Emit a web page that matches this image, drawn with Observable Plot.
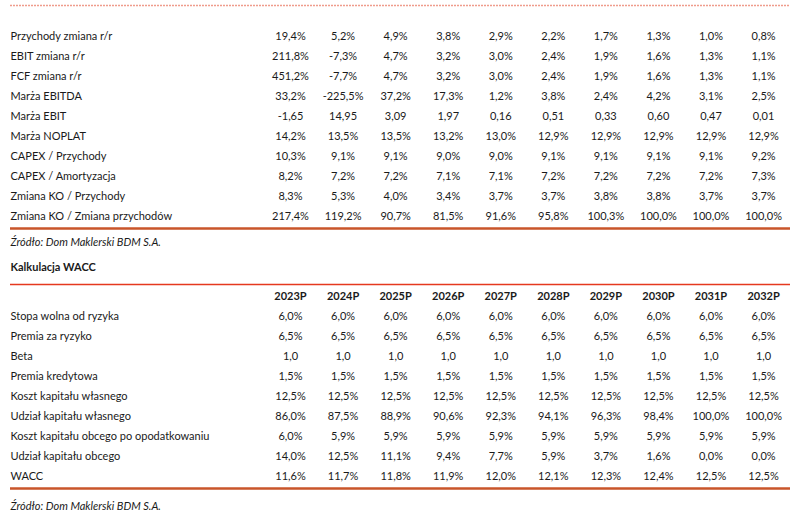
<!DOCTYPE html>
<html>
<head>
<meta charset="utf-8">
<script src="https://cdn.jsdelivr.net/npm/d3@7"></script>
<script src="https://cdn.jsdelivr.net/npm/@observablehq/plot@0.6"></script>
<style>
  html, body { margin: 0; padding: 0; background: #fff; }
  #chart svg { display: block; }
</style>
</head>
<body>
<div id="chart"></div>
<script>
// ---------- data ----------
const years = ["2023P","2024P","2025P","2026P","2027P","2028P","2029P","2030P","2031P","2032P"];

const ratioLabels = [
  "Przychody zmiana r/r",
  "EBIT zmiana r/r",
  "FCF zmiana r/r",
  "Marża EBITDA",
  "Marża EBIT",
  "Marża NOPLAT",
  "CAPEX / Przychody",
  "CAPEX / Amortyzacja",
  "Zmiana KO / Przychody",
  "Zmiana KO / Zmiana przychodów"
];
const ratioFormats = ["pct","pct","pct","pct","num2","pct","pct","pct","pct","pct"];
const revenueChange   = [19.4, 5.2, 4.9, 3.8, 2.9, 2.2, 1.7, 1.3, 1.0, 0.8];
const ebitChange      = [211.8, -7.3, 4.7, 3.2, 3.0, 2.4, 1.9, 1.6, 1.3, 1.1];
const fcfChange       = [451.2, -7.7, 4.7, 3.2, 3.0, 2.4, 1.9, 1.6, 1.3, 1.1];
const ebitdaMargin    = [33.2, -225.5, 37.2, 17.3, 1.2, 3.8, 2.4, 4.2, 3.1, 2.5];
const ebitMargin      = [-1.65, 14.95, 3.09, 1.97, 0.16, 0.51, 0.33, 0.60, 0.47, 0.01];
const noplatMargin    = [14.2, 13.5, 13.5, 13.2, 13.0, 12.9, 12.9, 12.9, 12.9, 12.9];
const capexRevenue    = [10.3, 9.1, 9.1, 9.0, 9.0, 9.1, 9.1, 9.1, 9.1, 9.2];
const capexDepr       = [8.2, 7.2, 7.2, 7.1, 7.1, 7.2, 7.2, 7.2, 7.2, 7.3];
const wcRevenue       = [8.3, 5.3, 4.0, 3.4, 3.7, 3.7, 3.8, 3.8, 3.7, 3.7];
const wcRevenueChange = [217.4, 119.2, 90.7, 81.5, 91.6, 95.8, 100.3, 100.0, 100.0, 100.0];
const ratioValues = [revenueChange, ebitChange, fcfChange, ebitdaMargin, ebitMargin,
  noplatMargin, capexRevenue, capexDepr, wcRevenue, wcRevenueChange];

const waccTitle = "Kalkulacja WACC";
const waccLabels = [
  "Stopa wolna od ryzyka",
  "Premia za ryzyko",
  "Beta",
  "Premia kredytowa",
  "Koszt kapitału własnego",
  "Udział kapitału własnego",
  "Koszt kapitału obcego po opodatkowaniu",
  "Udział kapitału obcego",
  "WACC"
];
const waccFormats = ["pct","pct","num1","pct","pct","pct","pct","pct","pct"];
const riskFree     = [6.0, 6.0, 6.0, 6.0, 6.0, 6.0, 6.0, 6.0, 6.0, 6.0];
const riskPremium  = [6.5, 6.5, 6.5, 6.5, 6.5, 6.5, 6.5, 6.5, 6.5, 6.5];
const beta         = [1.0, 1.0, 1.0, 1.0, 1.0, 1.0, 1.0, 1.0, 1.0, 1.0];
const creditPrem   = [1.5, 1.5, 1.5, 1.5, 1.5, 1.5, 1.5, 1.5, 1.5, 1.5];
const costEquity   = [12.5, 12.5, 12.5, 12.5, 12.5, 12.5, 12.5, 12.5, 12.5, 12.5];
const equityShare  = [86.0, 87.5, 88.9, 90.6, 92.3, 94.1, 96.3, 98.4, 100.0, 100.0];
const costDebtAT   = [6.0, 5.9, 5.9, 5.9, 5.9, 5.9, 5.9, 5.9, 5.9, 5.9];
const debtShare    = [14.0, 12.5, 11.1, 9.4, 7.7, 5.9, 3.7, 1.6, 0.0, 0.0];
const wacc         = [11.6, 11.7, 11.8, 11.9, 12.0, 12.1, 12.3, 12.4, 12.5, 12.5];
const waccValues = [riskFree, riskPremium, beta, creditPrem, costEquity,
  equityShare, costDebtAT, debtShare, wacc];

const sourceText = "Źródło: Dom Maklerski BDM S.A.";

// ---------- formatting ----------
const pl = d3.formatLocale({decimal: ",", thousands: " ", grouping: [3], currency: ["", " zł"], minus: "-"});
const fmt = {
  pct: v => pl.format(".1f")(v) + "%",
  num2: v => pl.format(".2f")(v),
  num1: v => pl.format(".1f")(v)
};

// ---------- layout in row units ----------
const row1Start = 0;                       // first table rows 0..9
const rule1Row = 9.6;
const source1Row = 10.3;
const titleRow = 11.55;
const redRuleRow = 12.4;
const headerRow = 13;
const row2Start = 14;                      // WACC rows 14..22
const rule2Row = 22.6;
const source2Row = 23.5;
const topDashRow = -1.55;

const labelRows = [
  ...ratioLabels.map((t, i) => ({row: row1Start + i, text: t})),
  ...waccLabels.map((t, i) => ({row: row2Start + i, text: t}))
];
const cells = [
  ...ratioValues.flatMap((vals, i) => vals.map((v, j) => ({row: row1Start + i, col: j, text: fmt[ratioFormats[i]](v)}))),
  ...waccValues.flatMap((vals, i) => vals.map((v, j) => ({row: row2Start + i, col: j, text: fmt[waccFormats[i]](v)})))
];
const headers = years.map((y, j) => ({row: headerRow, col: j, text: y}));

const FONT = "Lato, 'Open Sans', sans-serif";
const TEXT = "#1a1a1a";

const plot = Plot.plot({
  width: 800,
  height: 518,
  margin: 0,
  style: {fontFamily: FONT, fontSize: "11px", color: TEXT, background: "#fff"},
  x: {type: "linear", domain: [-5.518, 9.703], axis: null},
  y: {type: "linear", domain: [-1.8, 24.1], reverse: true, axis: null},
  marks: [
    Plot.ruleY([topDashRow], {stroke: "#ef9c8c", strokeWidth: 1.5, strokeDasharray: "2,1", insetLeft: 10, insetRight: 11}),
    Plot.ruleY([rule1Row, rule2Row], {stroke: "#c9552a", strokeWidth: 2.5, insetLeft: 10, insetRight: 10}),
    Plot.ruleY([redRuleRow], {stroke: "#e5391f", strokeWidth: 1.5, insetLeft: 10, insetRight: 10}),
    Plot.text(labelRows, {y: "row", text: "text", frameAnchor: "left", dx: 10, textAnchor: "start", fill: TEXT, fontSize: 11}),
    Plot.text(cells, {x: "col", y: "row", text: "text", textAnchor: "middle", fill: TEXT, fontSize: 11}),
    Plot.text(headers, {x: "col", y: "row", text: "text", textAnchor: "middle", fill: TEXT, fontSize: 11, fontWeight: "bold"}),
    Plot.text([{row: source1Row}, {row: source2Row}], {y: "row", text: () => sourceText, frameAnchor: "left", dx: 10, textAnchor: "start", fill: TEXT, fontSize: 11, fontStyle: "italic"}),
    Plot.text([{row: titleRow}], {y: "row", text: () => waccTitle, frameAnchor: "left", dx: 10, textAnchor: "start", fill: TEXT, fontSize: 11, fontWeight: "bold"})
  ]
});
document.getElementById("chart").append(plot);
</script>
</body>
</html>
